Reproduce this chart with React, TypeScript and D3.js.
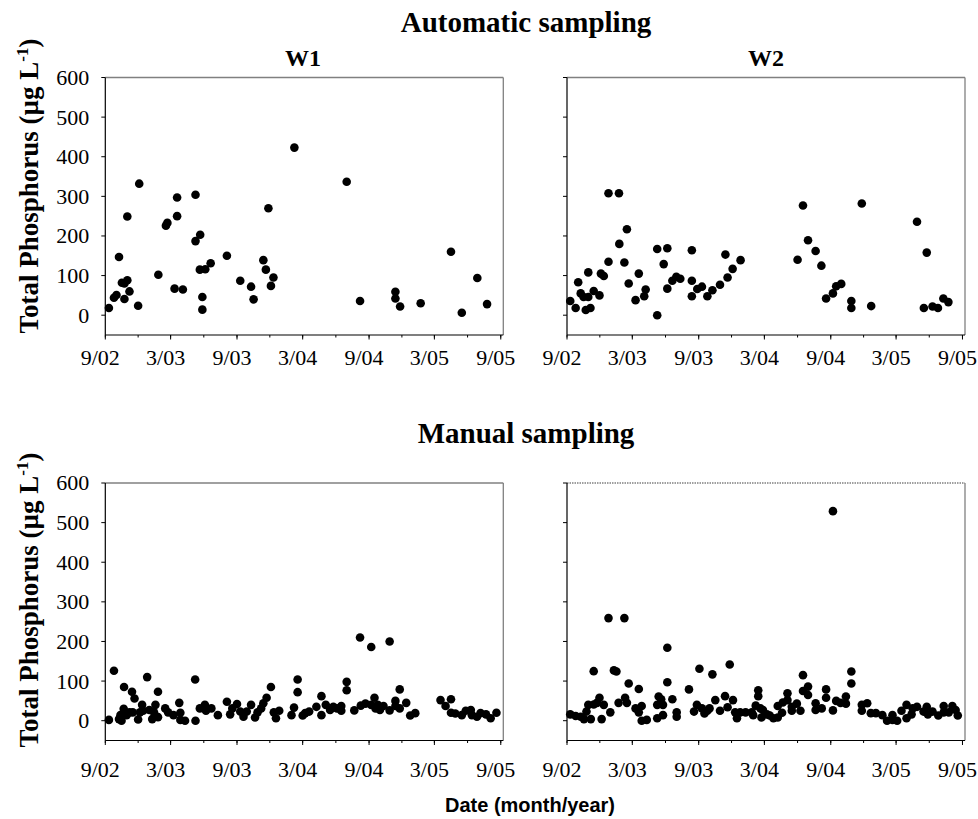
import React from "react";
import * as d3 from "d3";

// sampling dates and total phosphorus (µg/L)
const w1Auto: [string, number][] = [
  ["2002-09-11", 18], ["2002-09-25", 44], ["2002-10-02", 51], ["2002-10-09", 147],
  ["2002-10-17", 82], ["2002-10-24", 80], ["2002-11-01", 88], ["2002-10-24", 41],
  ["2002-11-01", 249], ["2002-11-07", 60], ["2002-12-01", 24], ["2002-12-04", 332],
  ["2003-01-26", 102], ["2003-02-16", 226], ["2003-02-20", 233], ["2003-03-12", 67],
  ["2003-03-19", 297], ["2003-03-19", 250], ["2003-04-04", 65], ["2003-05-09", 304],
  ["2003-05-09", 187], ["2003-05-22", 203], ["2003-05-21", 115], ["2003-06-05", 116],
  ["2003-05-28", 46], ["2003-05-28", 14], ["2003-06-20", 131], ["2003-08-04", 150],
  ["2003-09-10", 87], ["2003-10-10", 72], ["2003-10-17", 40], ["2003-11-13", 139],
  ["2003-11-20", 115], ["2003-11-27", 270], ["2003-12-11", 95], ["2003-12-04", 74],
  ["2004-02-07", 423], ["2004-07-01", 337], ["2004-08-07", 36], ["2004-11-13", 59],
  ["2004-11-13", 42], ["2004-11-26", 22], ["2005-01-22", 30], ["2005-04-16", 160],
  ["2005-05-16", 6], ["2005-06-28", 94], ["2005-07-25", 28],
];

const w2Auto: [string, number][] = [
  ["2002-09-10", 36], ["2002-09-25", 18], ["2002-10-02", 83], ["2002-10-09", 55],
  ["2002-10-17", 46], ["2002-10-23", 13], ["2002-10-30", 108], ["2002-10-30", 46],
  ["2002-11-05", 18], ["2002-11-14", 61], ["2002-11-30", 50], ["2002-12-04", 105],
  ["2002-12-12", 99], ["2002-12-25", 308], ["2002-12-25", 135], ["2003-01-23", 308],
  ["2003-01-24", 180], ["2003-02-07", 133], ["2003-02-14", 217], ["2003-02-19", 80],
  ["2003-03-10", 38], ["2003-03-19", 105], ["2003-04-03", 48], ["2003-04-07", 65],
  ["2003-05-09", 0], ["2003-05-09", 167], ["2003-05-27", 129], ["2003-06-06", 169],
  ["2003-06-06", 67], ["2003-06-20", 87], ["2003-07-01", 97], ["2003-07-12", 92],
  ["2003-08-13", 164], ["2003-08-13", 87], ["2003-08-13", 48], ["2003-08-28", 66],
  ["2003-09-10", 72], ["2003-09-25", 48], ["2003-10-09", 63], ["2003-10-30", 77],
  ["2003-11-14", 153], ["2003-11-20", 95], ["2003-12-04", 117], ["2003-12-26", 139],
  ["2004-06-01", 140], ["2004-06-16", 277], ["2004-06-30", 189], ["2004-07-21", 162],
  ["2004-08-06", 125], ["2004-08-19", 42], ["2004-09-07", 55], ["2004-09-16", 73],
  ["2004-09-30", 79], ["2004-10-28", 36], ["2004-10-28", 18], ["2004-11-26", 282],
  ["2004-12-22", 23], ["2005-04-28", 236], ["2005-05-25", 158], ["2005-05-17", 18],
  ["2005-06-10", 22], ["2005-06-25", 18], ["2005-07-10", 42], ["2005-07-24", 33],
];

const w1Manual: [string, number][] = [
  ["2002-09-11", 2], ["2002-09-25", 126], ["2002-10-09", 4], ["2002-10-13", 14],
  ["2002-10-16", 0], ["2002-10-22", 30], ["2002-10-23", 85], ["2002-10-30", 14],
  ["2002-11-07", 21], ["2002-11-14", 73], ["2002-11-16", 21], ["2002-11-21", 56],
  ["2002-12-01", 3], ["2002-12-06", 21], ["2002-12-12", 40], ["2002-12-15", 25],
  ["2002-12-26", 110], ["2003-01-01", 27], ["2003-01-09", 4], ["2003-01-14", 21],
  ["2003-01-18", 40], ["2003-01-25", 73], ["2003-01-25", 9], ["2003-02-14", 31],
  ["2003-02-22", 21], ["2003-03-09", 14], ["2003-03-25", 45], ["2003-03-28", 20],
  ["2003-03-28", 2], ["2003-04-10", 0], ["2003-05-08", 104], ["2003-05-09", 0],
  ["2003-05-21", 31], ["2003-06-04", 40], ["2003-06-07", 25], ["2003-06-22", 31],
  ["2003-07-10", 14], ["2003-08-04", 48], ["2003-08-13", 16], ["2003-08-19", 31],
  ["2003-09-01", 42], ["2003-09-10", 23], ["2003-09-19", 10], ["2003-09-28", 23],
  ["2003-10-10", 40], ["2003-10-21", 8], ["2003-10-28", 21], ["2003-11-07", 31],
  ["2003-11-13", 44], ["2003-11-22", 58], ["2003-12-04", 85], ["2003-12-12", 21],
  ["2003-12-18", 6], ["2003-12-27", 25], ["2004-01-30", 14], ["2004-02-06", 33],
  ["2004-02-16", 104], ["2004-02-16", 72], ["2004-03-01", 13], ["2004-03-08", 19],
  ["2004-03-19", 23], ["2004-04-08", 35], ["2004-04-22", 62], ["2004-04-22", 14],
  ["2004-05-04", 40], ["2004-05-16", 27], ["2004-05-25", 35], ["2004-06-04", 31],
  ["2004-06-16", 37], ["2004-06-16", 25], ["2004-07-01", 98], ["2004-07-01", 77],
  ["2004-07-22", 26], ["2004-08-07", 210], ["2004-08-09", 38], ["2004-08-22", 43],
  ["2004-09-07", 186], ["2004-09-07", 40], ["2004-09-16", 58], ["2004-09-19", 31],
  ["2004-09-25", 40], ["2004-10-01", 27], ["2004-10-11", 37], ["2004-10-28", 200],
  ["2004-10-28", 26], ["2004-11-13", 50], ["2004-11-13", 37], ["2004-11-25", 79],
  ["2004-11-25", 31], ["2004-12-13", 45], ["2004-12-24", 13], ["2005-01-07", 19],
  ["2005-03-18", 52], ["2005-04-01", 37], ["2005-04-16", 54], ["2005-04-16", 20],
  ["2005-04-28", 18], ["2005-05-16", 14], ["2005-05-27", 25], ["2005-06-10", 27],
  ["2005-06-13", 14], ["2005-06-27", 10], ["2005-07-07", 19], ["2005-07-22", 16],
  ["2005-08-04", 6], ["2005-08-20", 20],
];

const w2Manual: [string, number][] = [
  ["2002-09-10", 16], ["2002-09-25", 12], ["2002-10-09", 10], ["2002-10-18", 4],
  ["2002-10-25", 23], ["2002-10-30", 40], ["2002-11-06", 4], ["2002-11-14", 125],
  ["2002-11-14", 41], ["2002-11-23", 45], ["2002-11-30", 58], ["2002-12-06", 4],
  ["2002-12-12", 40], ["2002-12-25", 259], ["2002-12-30", 21], ["2003-01-09", 127],
  ["2003-01-16", 124], ["2003-01-22", 45], ["2003-02-07", 259], ["2003-02-09", 58],
  ["2003-02-14", 45], ["2003-02-19", 94], ["2003-03-10", 31], ["2003-03-19", 80],
  ["2003-03-19", 21], ["2003-03-27", 37], ["2003-03-27", 0], ["2003-04-10", 2],
  ["2003-05-09", 6], ["2003-05-09", 40], ["2003-05-13", 61], ["2003-05-20", 54],
  ["2003-05-25", 40], ["2003-05-25", 14], ["2003-06-06", 184], ["2003-06-06", 97],
  ["2003-06-20", 54], ["2003-07-02", 21], ["2003-07-02", 10], ["2003-08-05", 79],
  ["2003-08-19", 23], ["2003-08-27", 40], ["2003-09-03", 131], ["2003-09-10", 31],
  ["2003-09-17", 18], ["2003-09-25", 25], ["2003-10-01", 31], ["2003-10-09", 117],
  ["2003-10-17", 52], ["2003-10-30", 25], ["2003-11-13", 62], ["2003-11-20", 34],
  ["2003-11-26", 142], ["2003-12-05", 52], ["2003-12-11", 21], ["2003-12-16", 6],
  ["2003-12-25", 21], ["2004-01-09", 21], ["2004-01-26", 21], ["2004-01-30", 14],
  ["2004-02-06", 38], ["2004-02-13", 77], ["2004-02-13", 62], ["2004-02-19", 31],
  ["2004-02-22", 8], ["2004-02-26", 27], ["2004-03-08", 16], ["2004-03-16", 13],
  ["2004-03-26", 6], ["2004-04-07", 8], ["2004-04-07", 37], ["2004-04-19", 20],
  ["2004-04-21", 46], ["2004-05-04", 52], ["2004-05-04", 69], ["2004-05-16", 25],
  ["2004-05-16", 35], ["2004-05-30", 43], ["2004-06-09", 25], ["2004-06-16", 115],
  ["2004-06-16", 75], ["2004-06-30", 86], ["2004-06-30", 65], ["2004-07-21", 44],
  ["2004-07-21", 27], ["2004-08-07", 31], ["2004-08-19", 79], ["2004-08-19", 58],
  ["2004-09-07", 529], ["2004-09-07", 26], ["2004-09-16", 50], ["2004-09-28", 45],
  ["2004-10-13", 61], ["2004-10-13", 43], ["2004-10-28", 124], ["2004-10-28", 94],
  ["2004-11-26", 40], ["2004-11-26", 25], ["2004-12-11", 44], ["2004-12-21", 19],
  ["2005-01-04", 19], ["2005-01-22", 14], ["2005-02-04", 0], ["2005-02-19", 14],
  ["2005-02-19", 2], ["2005-03-04", 0], ["2005-03-16", 25], ["2005-03-30", 40],
  ["2005-03-30", 6], ["2005-04-13", 16], ["2005-04-16", 31], ["2005-04-28", 35],
  ["2005-05-16", 23], ["2005-05-25", 35], ["2005-05-28", 16], ["2005-06-10", 23],
  ["2005-06-26", 13], ["2005-07-11", 37], ["2005-07-11", 21], ["2005-07-25", 21],
  ["2005-08-04", 37], ["2005-08-13", 27], ["2005-08-19", 13],
];

const xTickLabels = ["9/02", "3/03", "9/03", "3/04", "9/04", "3/05", "9/05"];
const yTicks = [0, 100, 200, 300, 400, 500, 600];

const PW = 398;
const PH = 257.5;
const serif = "'Liberation Serif', 'DejaVu Serif', serif";
const parseDay = d3.timeParse("%Y-%m-%d");
const parseTick = d3.timeParse("%m/%y");

const x = d3
  .scaleTime()
  .domain([new Date(2002, 8, 1), new Date(2005, 8, 8)])
  .range([0, PW]);
const y = d3.scaleLinear().domain([-50, 600]).range([PH, 0]);
const minorTicks = d3.timeMonth.range(new Date(2002, 8, 1), new Date(2005, 8, 2), 3);

function Panel({ left, top, data, yLabels, dottedTop, labelGap }) {
  return (
    <g transform={`translate(${left},${top})`}>
      <line x1={0} x2={PW} y1={0} y2={0} stroke="#808080" strokeWidth={1.3}
        strokeDasharray={dottedTop ? "1.5,1" : undefined} />
      <line x1={PW} x2={PW} y1={0} y2={PH} stroke="#808080" strokeWidth={1.3} />
      <line x1={0} x2={0} y1={0} y2={PH} stroke="#000" strokeWidth={1.2} />
      <line x1={0} x2={PW} y1={PH} y2={PH} stroke="#000" strokeWidth={1.2} />
      {yTicks.map((t) => (
        <g key={t}>
          <line x1={-4} x2={0} y1={y(t)} y2={y(t)} stroke="#000" />
          {yLabels && (
            <text x={-16} y={y(t)} dy="0.34em" textAnchor="end" fontSize={22}
              fontFamily={serif}>
              {t}
            </text>
          )}
        </g>
      ))}
      {minorTicks.map((d, i) => (
        <line key={i} x1={x(d)} x2={x(d)} y1={PH} y2={PH + 2.5} stroke="#000" />
      ))}
      {xTickLabels.map((l) => {
        const d = parseTick(l);
        return (
          <g key={l}>
            <line x1={x(d)} x2={x(d)} y1={PH} y2={PH + 4.5} stroke="#000" />
            <text x={x(d) - 5} y={PH + labelGap} textAnchor="middle" fontSize={22}
              fontFamily={serif}>
              {l}
            </text>
          </g>
        );
      })}
      {data.map(([d, v], i) => (
        <circle key={i} cx={x(parseDay(d))} cy={y(v)} r={4.3} fill="#000" />
      ))}
    </g>
  );
}

function YLabel({ cy }) {
  return (
    <text transform={`translate(38,${cy}) rotate(-90)`} textAnchor="middle"
      fontSize={27} fontWeight="bold" fontFamily={serif}>
      Total Phosphorus (µg L
      <tspan fontSize={17} dy={-10}>-1</tspan>
      <tspan dy={10}>)</tspan>
    </text>
  );
}

export default function App() {
  return (
    <svg width={978} height={819} style={{ position: "absolute", left: 0, top: 0, background: "#fff" }}>
      <text x={526} y={32} textAnchor="middle" fontSize={29} fontWeight="bold" fontFamily={serif}>
        Automatic sampling
      </text>
      <text x={303} y={66} textAnchor="middle" fontSize={24} fontWeight="bold" fontFamily={serif}>W1</text>
      <text x={766} y={66} textAnchor="middle" fontSize={24} fontWeight="bold" fontFamily={serif}>W2</text>
      <text x={526} y={443} textAnchor="middle" fontSize={29} fontWeight="bold" fontFamily={serif}>
        Manual sampling
      </text>
      <YLabel cy={186} />
      <YLabel cy={600} />
      <Panel left={105.3} top={77.5} data={w1Auto} yLabels dottedTop={false} labelGap={30} />
      <Panel left={567} top={77.5} data={w2Auto} yLabels={false} dottedTop={false} labelGap={30} />
      <Panel left={105.3} top={483} data={w1Manual} yLabels dottedTop={false} labelGap={36} />
      <Panel left={567} top={483} data={w2Manual} yLabels={false} dottedTop labelGap={36} />
      <text x={530} y={812} textAnchor="middle" fontSize={20} fontWeight="bold"
        fontFamily="'Liberation Sans', Arial, sans-serif">
        Date (month/year)
      </text>
    </svg>
  );
}
